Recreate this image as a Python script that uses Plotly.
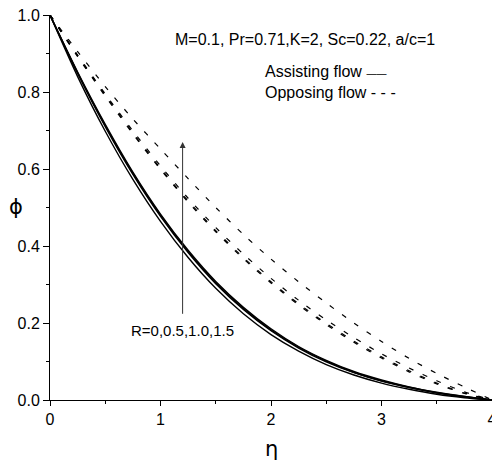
import plotly.graph_objects as go

eta = [0.0, 0.25, 0.5, 0.75, 1.0, 1.25, 1.5, 1.75, 2.0, 2.25, 2.5, 2.75, 3.0, 3.25, 3.5, 3.75, 4.0]

# Assisting flow (solid), R = 0, 0.5, 1.0, 1.5
assist_R0 = [1.0, 0.840, 0.698, 0.573, 0.464, 0.370, 0.290, 0.224, 0.170, 0.127, 0.092, 0.065, 0.044, 0.028, 0.015, 0.006, 0.0]
assist_R05 = [1.0, 0.848, 0.710, 0.586, 0.477, 0.383, 0.302, 0.235, 0.180, 0.135, 0.099, 0.071, 0.049, 0.032, 0.018, 0.008, 0.0]
assist_R10 = [1.0, 0.850, 0.713, 0.589, 0.480, 0.386, 0.305, 0.238, 0.182, 0.137, 0.101, 0.072, 0.050, 0.033, 0.019, 0.009, 0.0]
assist_R15 = [1.0, 0.852, 0.716, 0.592, 0.483, 0.389, 0.308, 0.241, 0.185, 0.139, 0.103, 0.074, 0.052, 0.034, 0.020, 0.009, 0.0]

# Opposing flow (dashed), R = 0, 0.5, 1.0, 1.5
oppose_R0 = [1.0, 0.892, 0.789, 0.691, 0.599, 0.514, 0.437, 0.367, 0.304, 0.247, 0.196, 0.150, 0.109, 0.073, 0.042, 0.017, 0.0]
oppose_R05 = [1.0, 0.894, 0.792, 0.694, 0.602, 0.517, 0.440, 0.370, 0.307, 0.250, 0.199, 0.153, 0.112, 0.076, 0.044, 0.018, 0.0]
oppose_R10 = [1.0, 0.896, 0.795, 0.699, 0.608, 0.524, 0.448, 0.379, 0.316, 0.259, 0.208, 0.162, 0.120, 0.083, 0.050, 0.021, 0.0]
oppose_R15 = [1.0, 0.905, 0.814, 0.730, 0.652, 0.575, 0.500, 0.430, 0.366, 0.307, 0.252, 0.200, 0.152, 0.108, 0.069, 0.034, 0.0]

x_ticks = [0, 1, 2, 3, 4]
y_ticks = [0.0, 0.2, 0.4, 0.6, 0.8, 1.0]
y_tick_labels = ["0.0", "0.2", "0.4", "0.6", "0.8", "1.0"]

FONT = "Liberation Sans, Arial, DejaVu Sans, sans-serif"

fig = go.Figure()
for s in [assist_R0, assist_R05, assist_R10, assist_R15]:
    fig.add_trace(go.Scatter(x=eta, y=s, mode="lines",
                             line=dict(color="black", width=1.4, shape="spline", smoothing=0.8),
                             showlegend=False, hoverinfo="skip", cliponaxis=False))
for s in [oppose_R0, oppose_R05, oppose_R10, oppose_R15]:
    fig.add_trace(go.Scatter(x=eta, y=s, mode="lines",
                             line=dict(color="black", width=1.2, dash="5px,10px", shape="spline", smoothing=0.8),
                             showlegend=False, hoverinfo="skip", cliponaxis=False))

fig.update_layout(
    width=492, height=462,
    margin=dict(l=50, r=0, t=15, b=62, autoexpand=False),
    paper_bgcolor="white", plot_bgcolor="white",
    font=dict(family=FONT, size=16, color="black"),
    showlegend=False,
)
fig.update_xaxes(
    range=[0, 4], tickvals=x_ticks, ticktext=[str(v) for v in x_ticks],
    showgrid=False, zeroline=False, showline=True, linecolor="black", linewidth=1,
    ticks="outside", ticklen=5, tickcolor="black", tickwidth=1,
    minor=dict(dtick=0.5, ticks="outside", ticklen=3, tickcolor="black", showgrid=False),
    tickfont=dict(size=16), ticklabeloverflow="allow", automargin=False,
)
fig.update_yaxes(
    range=[0, 1.0], tickvals=y_ticks, ticktext=y_tick_labels,
    showgrid=False, zeroline=False, showline=True, linecolor="black", linewidth=1,
    ticks="outside", ticklen=6, tickcolor="black", tickwidth=1,
    minor=dict(dtick=0.1, ticks="outside", ticklen=3, tickcolor="black", showgrid=False),
    tickfont=dict(size=16), ticklabeloverflow="allow", automargin=False,
)

# axis titles
fig.add_annotation(xref="paper", yref="paper", x=-34/442, y=0.501, text="\u03d5", showarrow=False,
                   font=dict(size=21, family="DejaVu Sans, Liberation Sans"), xanchor="center", yanchor="middle")
fig.add_annotation(xref="paper", yref="paper", x=0.502, y=-49/385, text="\u03b7", showarrow=False,
                   font=dict(size=21, family="DejaVu Sans, Liberation Sans"), xanchor="center", yanchor="middle")

fig.add_annotation(x=1.113, y=0.937, text="M=0.1, Pr=0.71,K=2, Sc=0.22, a/c=1", showarrow=False,
                   xanchor="left", yanchor="middle", font=dict(size=16))
fig.add_annotation(x=1.928, y=0.852, text="Assisting flow <span style='font-size:10px'>\u2014\u2014</span>", showarrow=False,
                   xanchor="left", yanchor="middle", font=dict(size=16))
fig.add_annotation(x=1.928, y=0.80, text="Opposing flow - - -", showarrow=False,
                   xanchor="left", yanchor="middle", font=dict(size=16))

# arrow
fig.add_annotation(x=1.2, y=0.67, ax=1.2, ay=0.22, xref="x", yref="y", axref="x", ayref="y",
                   text="", showarrow=True, arrowhead=2, arrowsize=1.2, arrowwidth=1, arrowcolor="#333333", standoff=0)
fig.add_annotation(x=1.2, y=0.18, text="R=0,0.5,1.0,1.5", showarrow=False,
                   xanchor="center", yanchor="middle", font=dict(size=15))

fig.write_html("out.html")
